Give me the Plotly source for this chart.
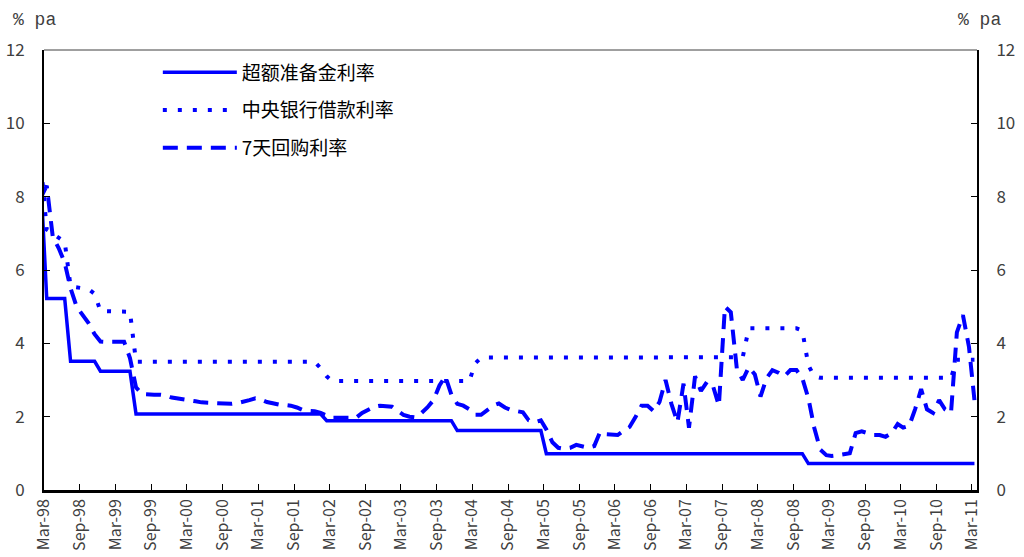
import pandas as pd
from plotly import graph_objects as go

# monthly observations, plotted mid-month (Feb-98 ... Mar-11)
first_month = "1998-02-01"

# 7天回购利率 (monthly)
repo_7d = [
    8.0,                                                       # Feb-98
    8.3, 6.9, 6.6, 6.2, 5.5, 5.0, 4.75, 4.55, 4.25, 4.05,     # Mar-98 .. Dec-98
    4.04, 4.04, 4.04, 4.04, 3.6, 2.8, 2.62, 2.6, 2.6, 2.6, 2.58, 2.52,   # 1999
    2.5, 2.48, 2.45, 2.42, 2.39, 2.38, 2.39, 2.38, 2.37, 2.35, 2.37, 2.4,  # 2000
    2.45, 2.5, 2.47, 2.4, 2.36, 2.33, 2.32, 2.3, 2.25, 2.18, 2.16, 2.15,  # 2001
    2.1, 2.02, 1.97, 1.97, 1.97, 1.96, 1.97, 2.1, 2.2, 2.27, 2.3, 2.28,   # 2002
    2.27, 2.15, 2.05, 2.0, 1.98, 2.1, 2.25, 2.45, 2.85, 3.1, 2.6, 2.35,   # 2003
    2.3, 2.2, 2.05, 2.05, 2.18, 2.3, 2.36, 2.25, 2.18, 2.15, 2.12, 1.9,   # 2004
    1.85, 1.9, 1.65, 1.3, 1.15, 1.12, 1.15, 1.23, 1.2, 1.15, 1.2, 1.58,   # 2005
    1.52, 1.5, 1.5, 1.62, 1.72, 2.0, 2.3, 2.3, 2.15, 2.4, 3.0, 2.35,      # 2006
    1.85, 2.9, 1.7, 3.1, 2.7, 2.95, 2.85, 2.3, 5.0, 4.85, 3.3, 3.0,       # 2007
    3.35, 3.15, 2.55, 3.05, 3.27, 3.2, 3.1, 3.27, 3.27, 3.05, 2.5, 1.7,   # 2008
    1.1, 0.95, 0.93, 0.95, 0.97, 1.0, 1.55, 1.6, 1.55, 1.5, 1.5, 1.45,    # 2009
    1.55, 1.8, 1.7, 1.75, 2.2, 2.75, 2.2, 2.1, 2.45, 2.2, 2.1, 4.3,       # 2010
    4.77, 3.9, 2.45,                                           # Jan-11 .. Mar-11
]

# 超额准备金利率 (month, rate at corners of the steps)
excess_months = ["1998-02", "1998-03", "1998-06", "1998-07", "1998-11", "1998-12",
                 "1999-05", "1999-06", "2002-01", "2002-02", "2003-11", "2003-12",
                 "2005-02", "2005-03", "2008-10", "2008-11", "2011-03"]
excess_rate = [8.2, 5.22, 5.22, 3.51, 3.51, 3.24,
               3.24, 2.07, 2.07, 1.89, 1.89, 1.62,
               1.62, 0.99, 0.99, 0.72, 0.72]

# 中央银行借款利率
lending_months = ["1998-02", "1998-03", "1998-06", "1998-07", "1998-10", "1998-11",
                  "1998-12", "1999-05", "1999-06", "2001-12", "2002-01", "2002-02",
                  "2002-03", "2004-02", "2004-03", "2004-04", "2007-12", "2008-01",
                  "2008-09", "2008-10", "2008-11", "2008-12", "2009-01", "2010-11",
                  "2010-12", "2011-03"]
lending_rate = [8.8, 7.1, 6.77, 5.55, 5.48, 5.35,
                4.88, 4.86, 3.5, 3.5, 3.32, 3.1,
                2.97, 2.97, 3.45, 3.61, 3.62, 4.41,
                4.41, 4.35, 3.4, 3.1, 3.06, 3.06,
                3.55, 3.55]

names = ["超额准备金利率", "中央银行借款利率", "7天回购利率"]

BLUE = "#0000ff"
TEXT_FONT = "Noto Sans CJK SC"


def mid_month(months):
    return pd.to_datetime(months) + pd.Timedelta(days=14)


repo_dates = pd.date_range(first_month, periods=len(repo_7d), freq="MS") + pd.Timedelta(days=14)

figure = go.Figure()
figure.add_trace(
    go.Scatter(
        name=names[0], x=mid_month(excess_months), y=excess_rate,
        mode="lines", line=dict(color=BLUE, width=3.5),
        legendgroup="a",
    )
)
figure.add_trace(
    go.Scatter(
        name=names[1], x=mid_month(lending_months), y=lending_rate,
        mode="lines", line=dict(color=BLUE, width=4, dash="4px,11px"),
        legendgroup="b", yaxis="y2",
    )
)
figure.add_trace(
    go.Scatter(
        name=names[2], x=repo_dates, y=repo_7d,
        mode="lines", line=dict(color=BLUE, width=4, dash="15px,9px"),
        legendgroup="c",
    )
)

axis_style = dict(
    range=[0, 12], dtick=2, ticks="inside", ticklen=6, tickcolor="black",
    showline=True, linecolor="black", linewidth=2,
    showgrid=False, zeroline=False, automargin=False, ticklabelstandoff=14,
    tickfont=dict(family=TEXT_FONT, size=17, color="#404040"),
)

figure.update_layout(
    width=1024,
    height=557,
    margin=dict(l=44, r=47, t=50, b=67),
    plot_bgcolor="white",
    paper_bgcolor="white",
    showlegend=True,
    legend=dict(
        x=0.122, y=0.992, xanchor="left", yanchor="top",
        font=dict(family=TEXT_FONT, size=19, color="black"),
        itemwidth=74, tracegroupgap=10, traceorder="grouped",
        bgcolor="rgba(0,0,0,0)",
    ),
    xaxis=dict(
        type="date", range=["1998-03-01", "2011-03-28"],
        tick0="1998-03-01", dtick="M6", tickformat="%b-%y", tickangle=-90,
        ticks="inside", ticklen=6, tickcolor="black",
        showline=True, linecolor="black", linewidth=2.5,
        showgrid=False, zeroline=False, automargin=False,
        tickfont=dict(family=TEXT_FONT, size=16, color="#404040"),
    ),
    yaxis=dict(side="left", **axis_style),
    yaxis2=dict(side="right", overlaying="y", anchor="x", **axis_style),
    shapes=[
        dict(type="line", xref="paper", yref="paper", x0=0, x1=1, y0=1, y1=1,
             line=dict(color="#404040", width=1)),
    ],
)

for x_pos in [-0.035, 0.978]:
    figure.add_annotation(
        text="% pa", xref="paper", yref="paper", x=x_pos, y=1.068,
        xanchor="left", yanchor="middle", showarrow=False,
        font=dict(family="Liberation Mono", size=18, color="#404040"),
    )

# the page is exactly the figure: drop the browser's default body margin
figure.write_html(
    "out.html",
    config={"displayModeBar": False},
    post_script="document.body.style.margin = '0';",
)
